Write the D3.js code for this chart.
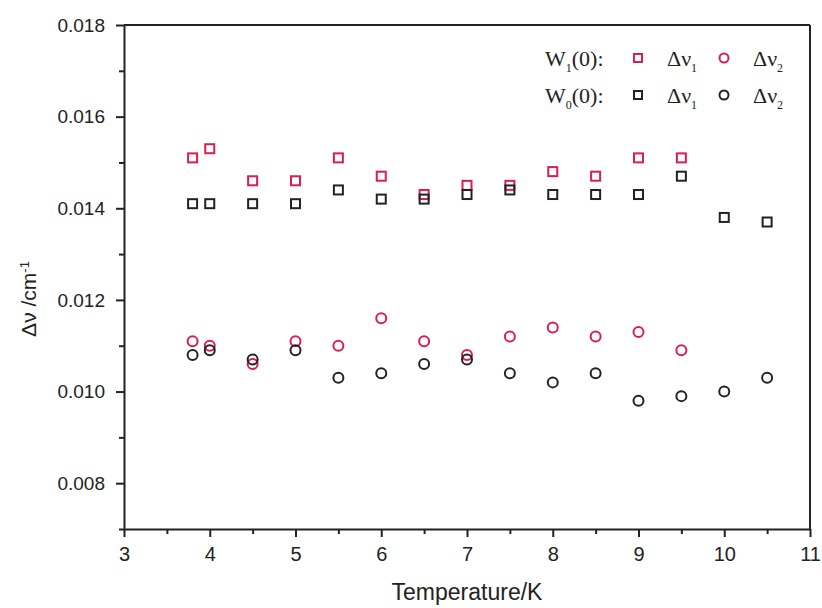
<!DOCTYPE html>
<html>
<head>
<meta charset="utf-8">
<script src="https://cdn.jsdelivr.net/npm/d3@7"></script>
<style>
  body { margin: 0; background: #fff; }
  .axis text { font-family: "Liberation Sans", Arial, sans-serif; fill: #222; }
  .axis path, .axis line { stroke: #222; }
</style>
</head>
<body>
<div id="chart"></div>
<script>
// temperatures (K)
var temps = [3.8, 4, 4.5, 5, 5.5, 6, 6.5, 7, 7.5, 8, 8.5, 9, 9.5, 10, 10.5];

// W1(0) series (no points above 9.5 K)
var w1dv1 = [0.0151, 0.0153, 0.0146, 0.0146, 0.0151, 0.0147, 0.0143, 0.0145, 0.0145, 0.0148, 0.0147, 0.0151, 0.0151, null, null];
var w1dv2 = [0.0111, 0.0110, 0.0106, 0.0111, 0.0110, 0.0116, 0.0111, 0.0108, 0.0112, 0.0114, 0.0112, 0.0113, 0.0109, null, null];

// W0(0) series
var w0dv1 = [0.0141, 0.0141, 0.0141, 0.0141, 0.0144, 0.0142, 0.0142, 0.0143, 0.0144, 0.0143, 0.0143, 0.0143, 0.0147, 0.0138, 0.0137];
var w0dv2 = [0.0108, 0.0109, 0.0107, 0.0109, 0.0103, 0.0104, 0.0106, 0.0107, 0.0104, 0.0102, 0.0104, 0.0098, 0.0099, 0.0100, 0.0103];

var xMajor = [3, 4, 5, 6, 7, 8, 9, 10, 11];
var xMinor = [3.5, 4.5, 5.5, 6.5, 7.5, 8.5, 9.5, 10.5];
var yMajor = [0.008, 0.010, 0.012, 0.014, 0.016, 0.018];
var yMinor = [0.007, 0.009, 0.011, 0.013, 0.015, 0.017];

var red = "#d81f4f", black = "#222";

var margin = {top: 25, right: 12, bottom: 79, left: 124},
  fullWidth = 822, fullHeight = 608,
  width = fullWidth - margin.left - margin.right,
  height = fullHeight - margin.top - margin.bottom;

var svg = d3.select("#chart").append("svg")
  .attr("width", fullWidth)
  .attr("height", fullHeight)
  .append("g")
  .attr("transform", "translate(" + margin.left + "," + margin.top + ")");

var x = d3.scaleLinear().domain([3, 11]).range([0, width]);
var y = d3.scaleLinear().domain([0.007, 0.018]).range([height, 0]);

// minor ticks first, then major axes on top
svg.append("g")
  .attr("class", "axis")
  .attr("transform", "translate(0," + height + ")")
  .call(d3.axisBottom(x).tickValues(xMinor).tickSize(5).tickFormat(""))
  .call(function(g) { g.select(".domain").remove(); })
  .selectAll("line").attr("stroke-width", 2);

svg.append("g")
  .attr("class", "axis")
  .call(d3.axisLeft(y).tickValues(yMinor).tickSize(5).tickFormat(""))
  .call(function(g) { g.select(".domain").remove(); })
  .selectAll("line").attr("stroke-width", 2);

var xAxis = svg.append("g")
  .attr("class", "axis")
  .attr("transform", "translate(0," + height + ")")
  .call(d3.axisBottom(x).tickValues(xMajor).tickSizeInner(8).tickSizeOuter(0).tickPadding(10).tickFormat(d3.format("d")));
xAxis.selectAll("line").attr("stroke-width", 2);
xAxis.select(".domain").attr("stroke-width", 2);
xAxis.selectAll("text").style("font-size", "20px");

var yAxis = svg.append("g")
  .attr("class", "axis")
  .call(d3.axisLeft(y).tickValues(yMajor).tickSizeInner(8).tickSizeOuter(0).tickPadding(11).tickFormat(d3.format(".3f")));
yAxis.selectAll("line").attr("stroke-width", 2);
yAxis.select(".domain").attr("stroke-width", 2);
yAxis.selectAll("text").style("font-size", "19px");

// top and right frame
svg.append("line")
  .attr("x1", 0).attr("x2", width).attr("y1", 0).attr("y2", 0)
  .attr("stroke", black).attr("stroke-width", 2);
svg.append("line")
  .attr("x1", width).attr("x2", width).attr("y1", 0).attr("y2", height)
  .attr("stroke", black).attr("stroke-width", 2);

// axis titles
svg.append("text")
  .attr("x", width / 2)
  .attr("y", height + 71)
  .attr("text-anchor", "middle")
  .style("font-family", "'Liberation Sans', Arial, sans-serif")
  .style("font-size", "23px")
  .style("fill", black)
  .text("Temperature/K");

var yTitle = svg.append("text")
  .attr("transform", "translate(" + (36 - margin.left) + "," + (299 - margin.top) + ") rotate(-90)")
  .attr("text-anchor", "middle")
  .style("font-family", "'Liberation Sans', Arial, sans-serif")
  .style("font-size", "21px")
  .style("fill", black);
yTitle.append("tspan").text("\u0394\u03bd /cm");
yTitle.append("tspan").attr("dy", "-0.55em").style("font-size", "13px").text("-1");

// points: red series below, black on top
var series = [
  {vals: w1dv1, color: red, shape: "square"},
  {vals: w1dv2, color: red, shape: "circle"},
  {vals: w0dv1, color: black, shape: "square"},
  {vals: w0dv2, color: black, shape: "circle"}
];

series.forEach(function(s) {
  var pts = temps.map(function(t, i) { return {t: t, v: s.vals[i]}; })
    .filter(function(d) { return d.v !== null; });
  var g = svg.append("g");
  if (s.shape === "square") {
    g.selectAll("rect").data(pts).enter().append("rect")
      .attr("x", function(d) { return x(d.t) - 4.5; })
      .attr("y", function(d) { return y(d.v) - 4.5; })
      .attr("width", 9).attr("height", 9)
      .attr("fill", "none")
      .attr("stroke", s.color)
      .attr("stroke-width", 2);
  } else {
    g.selectAll("circle").data(pts).enter().append("circle")
      .attr("cx", function(d) { return x(d.t); })
      .attr("cy", function(d) { return y(d.v); })
      .attr("r", 5)
      .attr("fill", "none")
      .attr("stroke", s.color)
      .attr("stroke-width", 2);
  }
});

// legend
var legendRows = [
  {sub: "1", color: red, y: 58},
  {sub: "0", color: black, y: 95}
];
var serif = "'Liberation Serif', 'Times New Roman', serif";
var legend = svg.selectAll(".legend").data(legendRows).enter().append("g")
  .attr("class", "legend")
  .attr("transform", function(d) { return "translate(0," + (d.y - margin.top) + ")"; });

var lbl = legend.append("text")
  .attr("x", 545 - margin.left)
  .attr("y", 8)
  .style("font-family", serif)
  .style("font-size", "22px")
  .style("fill", black);
lbl.append("tspan").text("W");
lbl.append("tspan").attr("dy", 6).style("font-size", "12px").text(function(d) { return d.sub; });
lbl.append("tspan").attr("dy", -6).text("(0):");

legend.append("rect")
  .attr("x", 638 - margin.left - 4)
  .attr("y", -4)
  .attr("width", 8).attr("height", 8)
  .attr("fill", "none")
  .attr("stroke", function(d) { return d.color; })
  .attr("stroke-width", 2);

legend.append("circle")
  .attr("cx", 724 - margin.left)
  .attr("cy", 0)
  .attr("r", 4.5)
  .attr("fill", "none")
  .attr("stroke", function(d) { return d.color; })
  .attr("stroke-width", 2);

[{x: 667, sub: "1"}, {x: 753, sub: "2"}].forEach(function(k) {
  var t = legend.append("text")
    .attr("x", k.x - margin.left)
    .attr("y", 8)
    .style("font-family", serif)
    .style("font-size", "22px")
    .style("fill", black);
  t.append("tspan").text("\u0394\u03bd");
  t.append("tspan").attr("dy", 6).style("font-size", "12px").text(k.sub);
});
</script>
</body>
</html>
